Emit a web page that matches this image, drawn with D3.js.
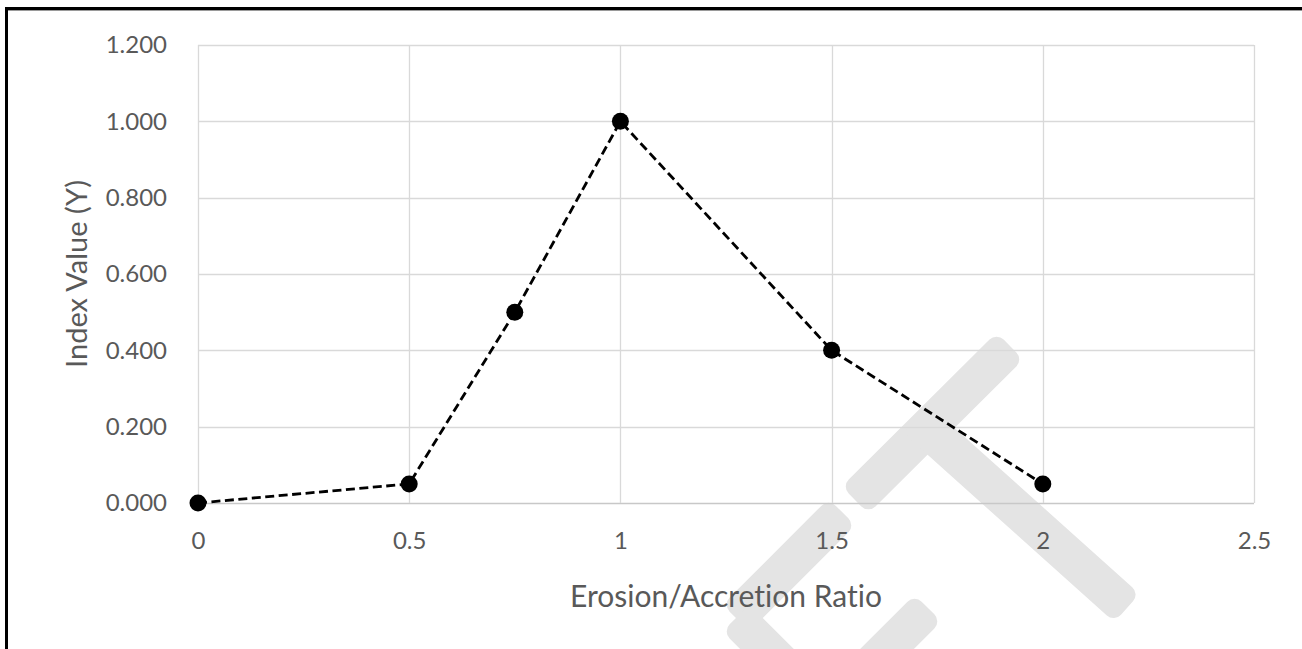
<!DOCTYPE html>
<html>
<head>
<meta charset="utf-8">
<script src="https://cdn.jsdelivr.net/npm/d3@7"></script>
<style>
  html, body { margin: 0; padding: 0; background: #fff; }
  svg { display: block; }
  text { font-variant-ligatures: none; font-feature-settings: "liga" 0; }
</style>
</head>
<body>
<svg id="chart" width="1302" height="649"></svg>
<script>
const xValues = [0, 0.5, 0.75, 1, 1.5, 2];
const yValues = [0.0, 0.05, 0.5, 1.0, 0.4, 0.05];
const xTicks = [0, 0.5, 1, 1.5, 2, 2.5];
const yTicks = [0, 0.2, 0.4, 0.6, 0.8, 1.0, 1.2];
const xTitle = "Erosion/Accretion Ratio";
const yTitle = "Index Value (Y)";

const svg = d3.select("#chart");
const W = 1302, H = 649;
const margin = { left: 198, right: 48, top: 45, bottom: 146 };

const x = d3.scaleLinear().domain([0, 2.5]).range([margin.left, W - margin.right]);
const y = d3.scaleLinear().domain([0, 1.2]).range([H - margin.bottom, margin.top]);

const font = "Lato, 'Open Sans', sans-serif";
const textColor = "#595959";

// Watermark (under the chart)
const wm = svg.append("g").attr("fill", "#e4e4e4");
function band(x1, y1, x2, y2, w) {
  const dx = x2 - x1, dy = y2 - y1;
  const len = Math.sqrt(dx * dx + dy * dy);
  const ang = Math.atan2(dy, dx) * 180 / Math.PI;
  wm.append("rect")
    .attr("x", 0).attr("y", -w / 2)
    .attr("width", len).attr("height", w)
    .attr("rx", 10).attr("ry", 10)
    .attr("transform", `translate(${x1},${y1}) rotate(${ang})`);
}
band(1010, 346, 855, 500, 38);
band(915, 418, 1127, 608, 38);
band(842, 512, 736, 618, 38);
band(736, 618, 820, 702, 38);
band(928, 608, 850, 686, 38);

// Gridlines
svg.append("g")
  .selectAll("line.h")
  .data(yTicks)
  .join("line")
  .attr("x1", x(0)).attr("x2", x(2.5))
  .attr("y1", d => Math.round(y(d)) + 0.5).attr("y2", d => Math.round(y(d)) + 0.5)
  .attr("stroke", d => d === 0 ? "#c8c8c8" : "#d9d9d9")
  .attr("stroke-width", 1.3);

svg.append("g")
  .selectAll("line.v")
  .data(xTicks)
  .join("line")
  .attr("y1", y(0)).attr("y2", y(1.2))
  .attr("x1", d => Math.round(x(d)) + 0.5).attr("x2", d => Math.round(x(d)) + 0.5)
  .attr("stroke", "#d9d9d9")
  .attr("stroke-width", 1.3);

// Tick labels via axes
const yAxis = d3.axisLeft(y).tickValues(yTicks).tickFormat(d3.format(".3f")).tickSize(0).tickPadding(31);
const yg = svg.append("g").attr("transform", `translate(${x(0)},0)`).call(yAxis);
yg.select(".domain").remove();
yg.selectAll("text").attr("font-family", font).attr("font-size", 24).attr("fill", textColor);

const xAxis = d3.axisBottom(x).tickValues(xTicks).tickFormat(d => String(d)).tickSize(0).tickPadding(29);
const xg = svg.append("g").attr("transform", `translate(0,${y(0)})`).call(xAxis);
xg.select(".domain").remove();
xg.selectAll("text").attr("font-family", font).attr("font-size", 24).attr("fill", textColor);

// Axis titles
svg.append("text")
  .attr("x", (x(0) + x(2.5)) / 2).attr("y", 607)
  .attr("text-anchor", "middle")
  .attr("font-family", font).attr("font-size", 30).attr("fill", textColor)
  .text(xTitle);

svg.append("text")
  .attr("transform", `translate(87,${(y(0) + y(1.2)) / 2}) rotate(-90)`)
  .attr("text-anchor", "middle")
  .attr("font-family", font).attr("font-size", 29).attr("fill", textColor)
  .text(yTitle);

// Line
const data = xValues.map((v, i) => ({ x: v, y: yValues[i] }));
svg.append("path")
  .datum(data)
  .attr("fill", "none")
  .attr("stroke", "#000")
  .attr("stroke-width", 2.8)
  .attr("stroke-dasharray", "9,4.5")
  .attr("d", d3.line().x(d => x(d.x)).y(d => y(d.y)));

svg.append("g")
  .selectAll("circle")
  .data(data)
  .join("circle")
  .attr("cx", d => x(d.x)).attr("cy", d => y(d.y))
  .attr("r", 8.5)
  .attr("fill", "#000");

// Border (top and left)
svg.append("rect").attr("x", 5).attr("y", 7).attr("width", W - 5).attr("height", 3).attr("fill", "#000");
svg.append("rect").attr("x", 5).attr("y", 7).attr("width", 3).attr("height", H - 7).attr("fill", "#000");
svg.append("rect").attr("x", 8).attr("y", 10).attr("width", W - 8).attr("height", 1).attr("fill", "#9a9a9a");
</script>
</body>
</html>
